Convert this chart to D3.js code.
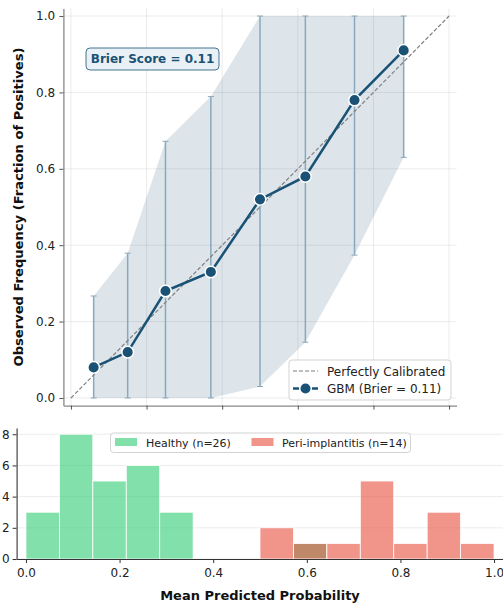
<!DOCTYPE html>
<html><head><meta charset="utf-8">
<script src="https://d3js.org/d3.v7.min.js"></script>
<style>body{margin:0;background:#fff}svg{display:block;font-family:"DejaVu Sans",sans-serif}</style>
</head><body><div id="c"></div>
<script>
// calibration data
const meanPred = [0.06, 0.15, 0.25, 0.37, 0.50, 0.62, 0.75, 0.88];
const fracPos  = [0.08, 0.12, 0.28, 0.33, 0.52, 0.58, 0.78, 0.91];
const ciLow    = [0.00, 0.00, 0.00, 0.00, 0.03, 0.146, 0.374, 0.63];
const ciHigh   = [0.267, 0.379, 0.672, 0.789, 1.00, 1.00, 1.00, 1.00];
const calTicks = [0, 0.2, 0.4, 0.6, 0.8, 1.0];
// histogram data
const binWidth = 1/14;
const healthyStart = 0.0;
const healthyCounts = [3, 8, 5, 6, 3, 0, 0, 0, 1];
const periStart = 0.5;
const periCounts = [2, 1, 1, 5, 1, 3, 1];
const histYTicks = [0, 2, 4, 6, 8];
const brierText = "Brier Score = 0.11";
const legendTop = ["Perfectly Calibrated", "GBM (Brier = 0.11)"];
const legendBottom = ["Healthy (n=26)", "Peri-implantitis (n=14)"];

const W = 503, H = 605;
const svg = d3.select("#c").append("svg").attr("width", W).attr("height", H);
const lineColor = "#1a5276";

// ---------- top calibration plot ----------
const x1 = d3.scaleLinear().domain([-0.02, 1.02]).range([63.4, 456.6]);
const y1 = d3.scaleLinear().domain([-0.02, 1.02]).range([405.6, 8.4]);
const g1 = svg.append("g");

// grid
g1.append("g").selectAll("line.v").data(calTicks).join("line")
  .attr("x1", d => x1(d)).attr("x2", d => x1(d)).attr("y1", y1(-0.02)).attr("y2", y1(1.02))
  .attr("stroke", "#b0b0b0").attr("stroke-opacity", 0.3).attr("stroke-width", 0.8);
g1.append("g").selectAll("line.h").data(calTicks).join("line")
  .attr("y1", d => y1(d)).attr("y2", d => y1(d)).attr("x1", x1(-0.02)).attr("x2", x1(1.02))
  .attr("stroke", "#b0b0b0").attr("stroke-opacity", 0.3).attr("stroke-width", 0.8);

// band
const idx = d3.range(meanPred.length);
const area = d3.area().x(i => x1(meanPred[i])).y0(i => y1(ciLow[i])).y1(i => y1(ciHigh[i]));
g1.append("path").attr("d", area(idx)).attr("fill", lineColor).attr("fill-opacity", 0.15);

// error bars
const eb = g1.append("g").attr("stroke", "#8aa8bd").attr("stroke-width", 1.5);
idx.forEach(i => {
  const cx = x1(meanPred[i]);
  eb.append("line").attr("x1", cx).attr("x2", cx).attr("y1", y1(ciLow[i])).attr("y2", y1(ciHigh[i]));
  eb.append("line").attr("x1", cx - 3).attr("x2", cx + 3).attr("y1", y1(ciLow[i])).attr("y2", y1(ciLow[i])).attr("stroke-width", 1);
  eb.append("line").attr("x1", cx - 3).attr("x2", cx + 3).attr("y1", y1(ciHigh[i])).attr("y2", y1(ciHigh[i])).attr("stroke-width", 1);
});

// diagonal
g1.append("line").attr("x1", x1(0)).attr("y1", y1(0)).attr("x2", x1(1)).attr("y2", y1(1))
  .attr("stroke", "#7f7f7f").attr("stroke-width", 1.2).attr("stroke-dasharray", "4,2");

// line + markers
const line = d3.line().x(i => x1(meanPred[i])).y(i => y1(fracPos[i]));
g1.append("path").attr("d", line(idx)).attr("fill", "none").attr("stroke", lineColor).attr("stroke-width", 2.5);
g1.append("g").selectAll("circle").data(idx).join("circle")
  .attr("cx", i => x1(meanPred[i])).attr("cy", i => y1(fracPos[i])).attr("r", 5.8)
  .attr("fill", lineColor).attr("stroke", "#fff").attr("stroke-width", 1.5);

// axes
const ax1x = g1.append("g").attr("transform", `translate(0,${y1(-0.02)})`)
  .call(d3.axisBottom(x1).tickValues(calTicks).tickFormat("").tickSize(4).tickSizeOuter(0));
const ax1y = g1.append("g").attr("transform", `translate(${x1(-0.02)},0)`)
  .call(d3.axisLeft(y1).tickValues(calTicks).tickFormat(d3.format(".1f")).tickSize(4).tickSizeOuter(0));
[ax1x, ax1y].forEach(a => {
  a.select(".domain").attr("stroke", "#888").attr("stroke-width", 1.3);
  a.selectAll(".tick line").attr("stroke", "#555");
  a.selectAll("text").attr("font-size", 12).attr("fill", "#222").attr("font-family", "DejaVu Sans");
});
ax1y.selectAll("text").attr("dx", "-0.1em");

svg.append("text").attr("transform", `translate(23,${(y1(-0.02)+y1(1.02))/2}) rotate(-90)`)
  .attr("text-anchor", "middle").attr("font-weight", "bold").attr("font-size", 13.1).attr("fill", "#111")
  .text("Observed Frequency (Fraction of Positives)");

// brier box
g1.append("rect").attr("x", 86).attr("y", 48).attr("width", 133).attr("height", 22)
  .attr("rx", 4).attr("fill", "#eaf1f6").attr("stroke", lineColor).attr("stroke-opacity", 0.8).attr("stroke-width", 1);
g1.append("text").attr("x", 152.5).attr("y", 63.3).attr("text-anchor", "middle")
  .attr("font-weight", "bold").attr("font-size", 12).attr("fill", lineColor).text(brierText);

// top legend
const lg = g1.append("g");
lg.append("rect").attr("x", 289).attr("y", 360).attr("width", 162).attr("height", 40).attr("rx", 3)
  .attr("fill", "#fff").attr("fill-opacity", 0.85).attr("stroke", "#c8c8c8").attr("stroke-width", 0.8);
lg.append("line").attr("x1", 293).attr("x2", 318).attr("y1", 371).attr("y2", 371)
  .attr("stroke", "#7f7f7f").attr("stroke-width", 1.2).attr("stroke-dasharray", "4,2");
lg.append("line").attr("x1", 293).attr("x2", 318).attr("y1", 388.5).attr("y2", 388.5)
  .attr("stroke", lineColor).attr("stroke-width", 2.5);
lg.append("circle").attr("cx", 305.5).attr("cy", 388.5).attr("r", 5.8).attr("fill", lineColor)
  .attr("stroke", "#fff").attr("stroke-width", 1.5);
lg.append("text").attr("x", 327).attr("y", 375.5).attr("font-size", 12).attr("fill", "#222").text(legendTop[0]);
lg.append("text").attr("x", 327).attr("y", 393).attr("font-size", 12).attr("fill", "#222").text(legendTop[1]);

// ---------- bottom histogram ----------
const x2 = d3.scaleLinear().domain([-0.02, 1.02]).range([16.6, 503.4]);
const y2 = d3.scaleLinear().domain([0, 8.4]).range([559, 428]);
const g2 = svg.append("g");
g2.append("g").selectAll("line").data(histYTicks).join("line")
  .attr("x1", x2(-0.02)).attr("x2", x2(1.02)).attr("y1", d => y2(d)).attr("y2", d => y2(d))
  .attr("stroke", "#b0b0b0").attr("stroke-opacity", 0.3).attr("stroke-width", 0.8);

function drawHist(start, counts, color) {
  g2.append("g").selectAll("rect").data(counts.map((c, i) => ({x0: start + i * binWidth, c})).filter(d => d.c > 0))
    .join("rect")
    .attr("x", d => x2(d.x0)).attr("width", d => x2(d.x0 + binWidth) - x2(d.x0))
    .attr("y", d => y2(d.c)).attr("height", d => y2(0) - y2(d.c))
    .attr("fill", color).attr("fill-opacity", 0.6)
    .attr("stroke", "#fff").attr("stroke-width", 0.8);
}
drawHist(healthyStart, healthyCounts, "#2ecc71");
drawHist(periStart, periCounts, "#e74c3c");

const ax2x = g2.append("g").attr("transform", `translate(0,${y2(0)})`)
  .call(d3.axisBottom(x2).tickValues(calTicks).tickFormat(d3.format(".1f")).tickSize(4).tickSizeOuter(0));
const ax2y = g2.append("g").attr("transform", `translate(${x2(-0.02)},0)`)
  .call(d3.axisLeft(y2).tickValues(histYTicks).tickSize(4).tickSizeOuter(0));
[ax2x, ax2y].forEach(a => {
  a.select(".domain").attr("stroke", "#333").attr("stroke-width", 1.1);
  a.selectAll(".tick line").attr("stroke", "#333");
  a.selectAll("text").attr("font-size", 12).attr("fill", "#222").attr("font-family", "DejaVu Sans");
});
ax2x.selectAll("text").attr("dy", "0.9em");

svg.append("text").attr("x", 260).attr("y", 600).attr("text-anchor", "middle")
  .attr("font-weight", "bold").attr("font-size", 13).attr("fill", "#111").text("Mean Predicted Probability");

// bottom legend
const lg2 = g2.append("g");
lg2.append("rect").attr("x", 110.5).attr("y", 433).attr("width", 300).attr("height", 19.5).attr("rx", 3)
  .attr("fill", "#fff").attr("fill-opacity", 0.85).attr("stroke", "#c8c8c8").attr("stroke-width", 0.8);
lg2.append("rect").attr("x", 115).attr("y", 438).attr("width", 22).attr("height", 8)
  .attr("fill", "#2ecc71").attr("fill-opacity", 0.6);
lg2.append("text").attr("x", 146).attr("y", 446.5).attr("font-size", 11).attr("fill", "#222").text(legendBottom[0]);
lg2.append("rect").attr("x", 251.5).attr("y", 438).attr("width", 22).attr("height", 8)
  .attr("fill", "#e74c3c").attr("fill-opacity", 0.6);
lg2.append("text").attr("x", 282).attr("y", 446.5).attr("font-size", 11).attr("fill", "#222").text(legendBottom[1]);
</script></body></html>
